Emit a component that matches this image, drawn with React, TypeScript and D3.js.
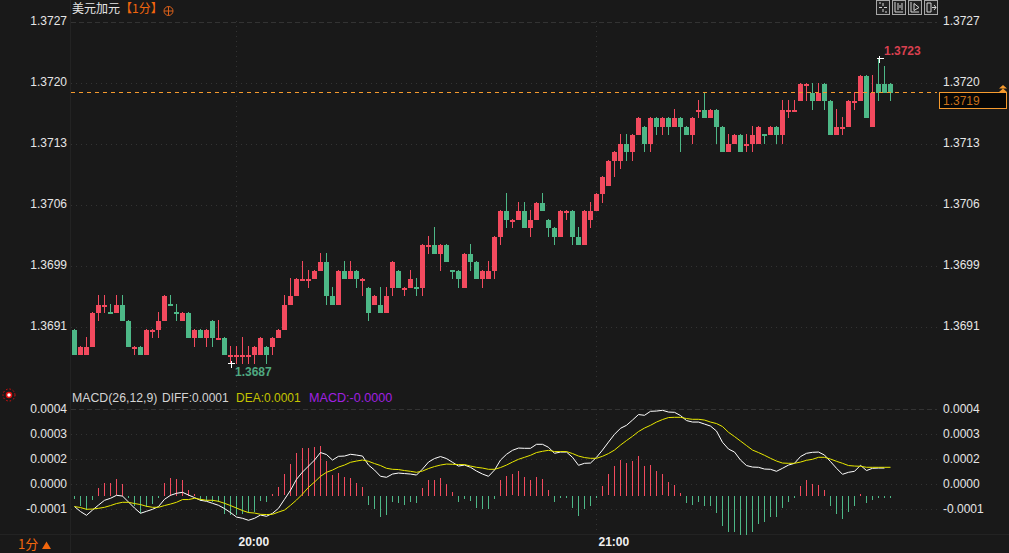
import React from 'react';
import * as d3 from 'd3';

// prices are stored in 0.0001 steps above 1.3600 (91 = 1.3691)
const opens = [
  91, 88, 88, 89, 93, 94, 93.1, 93, 94, 92,
  89, 89, 88, 91, 91, 92, 94.1, 93.1, 92, 93,
  90, 91, 90, 92, 90, 90, 88, 88, 88, 88,
  88, 88, 89, 89, 90, 91, 94, 95, 97, 97,
  97, 98, 99, 95, 94, 98, 97, 98, 97, 96,
  94, 94, 93, 96, 98, 96, 96, 96.1, 96, 101,
  101, 100, 101, 98.1, 98, 96, 100, 99, 97, 97,
  98, 102, 105, 104, 104, 105, 103, 104, 106, 104,
  103, 102, 105, 105, 102, 101, 104, 105, 107, 108,
  111, 111, 113, 112, 114, 115, 113, 116, 115, 116,
  115, 116, 115, 114, 117, 117, 116, 117, 115, 112,
  113, 114, 113, 113, 113, 114.1, 114, 115, 114, 117,
  117, 118, 120, 119, 118, 120, 118, 114, 115, 115,
  118, 118, 121, 115, 120, 120, 120,
];
const closes = [
  88, 89, 89, 93, 94, 94, 93, 94, 92, 89,
  89, 88, 91, 91, 92, 95, 94, 93, 93, 90,
  91, 90, 91, 90, 90, 88, 88, 88, 88, 88,
  89, 90, 88, 90, 91, 94, 95, 97, 97, 97,
  98, 99, 95, 94, 98, 97, 98, 97, 97, 93,
  95, 93, 95, 99, 96, 96, 97, 96, 101, 101,
  100, 101, 99, 98, 97, 100, 99, 97, 98, 98,
  102, 105, 104, 104, 105, 103, 104, 106, 105, 103,
  102, 105, 105, 102, 101, 105, 105, 107, 109, 111,
  112, 113, 112, 114, 116, 113, 116, 115, 116, 115,
  116, 115, 114, 116, 117, 116, 117, 115, 112, 113,
  114, 112, 113, 114, 115, 114, 115, 114, 117, 117,
  117, 120, 120, 118, 119, 118, 114, 115, 115, 118,
  118, 121, 116, 119, 119, 119, 119,
];
const highs = [
  91, 89, 90, 93, 95, 95, 94, 95, 95, 92,
  89, 89, 91, 91, 93, 95, 95, 94, 93, 93,
  91, 91, 91, 92, 92, 90, 89, 89, 90, 89,
  89, 90, 89, 90, 91, 95, 97, 97, 99, 98,
  98, 100, 100, 96, 98, 99, 99, 98, 97, 96,
  95, 96, 96, 99, 98, 96, 98, 97, 101, 102,
  103, 101, 101, 98, 98, 100, 101, 99, 98, 99,
  102, 105, 107, 104, 106, 106, 105, 106, 107, 104,
  103, 105, 105, 105, 103, 105, 106, 107, 109, 111,
  112, 114, 114, 114, 116, 115, 116, 116, 116, 116,
  117, 116, 115, 116, 118, 119, 117, 117, 115, 114,
  114, 114, 114, 115, 115, 114, 115, 115, 118, 118,
  118, 120, 120, 120, 120, 120, 118, 117, 116, 118,
  119, 121, 121, 121, 123, 122, 120,
];
const lows = [
  88, 88, 88, 89, 92, 93, 93, 93, 92, 89,
  88, 88, 88, 90, 90, 92, 94, 92, 92, 90,
  89, 90, 89, 89, 90, 88, 87, 87, 87, 87,
  87, 88, 87, 88, 90, 91, 94, 95, 97, 96,
  97, 98, 94, 94, 94, 97, 97, 96, 95, 92,
  94, 93, 93, 95, 96, 95, 96, 95, 95, 100,
  100, 98, 99, 97, 96, 96, 98, 97, 96, 97,
  97, 101, 103, 103, 104, 103, 102, 104, 105, 102,
  101, 102, 104, 101, 101, 101, 103, 105, 106, 108,
  109, 110, 111, 111, 114, 112, 112, 114, 114, 114,
  115, 112, 114, 113, 116, 116, 116, 113, 112, 112,
  113, 112, 112, 112, 113, 113, 114, 113, 113, 116,
  117, 118, 118, 117, 118, 117, 114, 114, 114, 115,
  117, 118, 116, 115, 118, 119, 118,
];

// MACD lines, read as grid steps above the 0.00004 tick (one step is 0.00011)
const diffLine = [
  -0.89, -1.09, -1.24, -1.03, -0.83, -0.64, -0.56, -0.44, -0.47, -0.71,
  -0.95, -1.16, -1.08, -1.0, -0.89, -0.6, -0.44, -0.36, -0.32, -0.43,
  -0.53, -0.64, -0.68, -0.76, -0.84, -0.97, -1.13, -1.31, -1.36, -1.44,
  -1.36, -1.23, -1.28, -1.16, -0.96, -0.6, -0.24, 0.2, 0.49, 0.73,
  0.97, 1.27, 1.19, 0.97, 1.12, 1.13, 1.2, 1.17, 1.13, 0.77,
  0.57, 0.32, 0.28, 0.41, 0.45, 0.43, 0.41, 0.37, 0.61, 0.89,
  1.03, 1.11, 1.03, 0.88, 0.73, 0.77, 0.68, 0.53, 0.41, 0.32,
  0.57, 0.97, 1.2, 1.36, 1.45, 1.44, 1.44, 1.6, 1.6, 1.48,
  1.24, 1.29, 1.29, 1.08, 0.76, 0.84, 0.85, 1.08, 1.37, 1.69,
  2.0, 2.24, 2.36, 2.57, 2.79, 2.76, 2.92, 2.93, 2.96, 2.89,
  2.88, 2.75, 2.55, 2.49, 2.49, 2.41, 2.33, 2.13, 1.68, 1.41,
  1.29, 0.97, 0.75, 0.69, 0.68, 0.61, 0.6, 0.52, 0.64, 0.77,
  0.84, 1.11, 1.24, 1.28, 1.29, 1.17, 0.91, 0.64, 0.4, 0.48,
  0.52, 0.76, 0.55, 0.64, 0.65, 0.65,
];
const deaLine = [
  -0.89, -0.93, -1.0, -0.99, -0.96, -0.92, -0.85, -0.77, -0.72, -0.72,
  -0.77, -0.81, -0.88, -0.92, -0.92, -0.85, -0.79, -0.72, -0.61, -0.61,
  -0.56, -0.6, -0.64, -0.64, -0.68, -0.76, -0.85, -0.95, -1.05, -1.13,
  -1.15, -1.2, -1.21, -1.2, -1.11, -1.03, -0.84, -0.63, -0.39, -0.12,
  0.09, 0.32, 0.48, 0.57, 0.69, 0.77, 0.88, 0.93, 0.97, 0.92,
  0.83, 0.75, 0.64, 0.6, 0.59, 0.55, 0.52, 0.48, 0.53, 0.63,
  0.71, 0.77, 0.81, 0.8, 0.79, 0.79, 0.73, 0.68, 0.65, 0.6,
  0.6, 0.67, 0.77, 0.89, 1.0, 1.08, 1.16, 1.27, 1.32, 1.36,
  1.31, 1.31, 1.31, 1.23, 1.13, 1.07, 1.04, 1.04, 1.12, 1.23,
  1.37, 1.57, 1.75, 1.92, 2.11, 2.25, 2.36, 2.49, 2.59, 2.67,
  2.68, 2.68, 2.63, 2.6, 2.6, 2.57, 2.49, 2.43, 2.31, 2.08,
  1.91, 1.73, 1.55, 1.37, 1.27, 1.16, 1.04, 0.93, 0.85, 0.84,
  0.84, 0.89, 0.96, 1.0, 1.08, 1.08, 1.01, 0.92, 0.84, 0.75,
  0.73, 0.72, 0.68, 0.68, 0.68, 0.68, 0.68,
];
// histogram has its own scale in the source chart, so these are relative heights
const macdBars = [
  -3, -10, -14, -4, 7.5, 13, 13, 16, 11.5, -2,
  -10, -17, -11, -8, -2, 13, 17.5, 16.5, 15.5, 5.5,
  1.5, -5, -5, -6.5, -6.5, -18, -18.5, -18.5, -18, -17,
  -16, -5, -5.5, 1.5, 8.5, 21.5, 32, 43, 48, 48,
  49, 50, 35, 21, 23, 19, 17.5, 13, 8.5, -8.5,
  -12.5, -21, -19, -6.5, -7.5, -8.5, -5.5, -7.5, 7.5, 15.5,
  15.5, 17.5, 11.5, 3.5, -5.5, -2.5, -4.5, -11.5, -13.5, -13.5,
  -2.5, 15.5, 19.5, 21.5, 24.5, 18.5, 15.5, 18.5, 16.5, 5.5,
  -5.5, -2, -2, -11.5, -20, -13.5, -9.5, -1.5, 9.5, 21.5,
  29.5, 35.5, 32.5, 34.5, 39.5, 29.5, 30.5, 24.5, 21.5, 13.5,
  10.5, 2.5, -7.5, -8.5, -6.5, -9.5, -9.5, -16.5, -30.5, -35.5,
  -35.5, -38.5, -38.5, -35.5, -27.5, -25.5, -20.5, -20.5, -11.5, -5.5,
  -1.5, 9.5, 15.5, 11.5, 10.5, 5.5, -10.5, -17.5, -22.5, -15.5,
  -10.5, 1.5, -7.5, -3.5, -1.5, -1.5, -1.5,
];

const priceTicks = [1.37274, 1.37202, 1.3713, 1.37058, 1.36986, 1.36914];
const macdTicks = [0.000372, 0.000262, 0.000152, 0.000042, -0.000068];
const timeTicks = [
  { index: 27, label: '20:00' },
  { index: 87, label: '21:00' },
];

const lastPrice = 119;
const highMark = { index: 134, value: 123, label: '1.3723' };
const lowMark = { index: 26, value: 87, label: '1.3687' };

const RED = '#f24a5e';
const GREEN = '#4db887';
const GRID = '#333333';
const ORANGE = '#f59a2e';
const LABEL = '#e6e6e6';
const FONT = '"Liberation Sans", Arial, sans-serif';
const CJK = '"Noto Sans CJK SC", "Liberation Sans", sans-serif';

const left = 71;
const right = 937;

const x = d3.scaleLinear().domain([0, 136]).range([74.5, 890.5]);
const yPrice = d3.scaleLinear().domain([87, 123]).range([363.8, 58.9]);
const yPriceTick = (p: number) => yPrice((p - 1.36) * 10000);
const yMacd = d3.scaleLinear().domain([0.000372, -0.000068]).range([409.3, 509.3]);
const stepToValue = (s: number) => 0.000042 + s * 0.00011;
const yBars = d3.scaleLinear().domain([0, 50]).range([495.5, 445.5]);

const macdPath = d3.line<number>().x((_, i) => x(i)).y(d => yMacd(stepToValue(d)));

const IconBox: React.FC<{ bx: number; d: string }> = ({ bx, d }) => (
  <g transform={`translate(${bx},0)`}>
    <rect x={0.5} y={0.5} width={13} height={14} fill="#222" stroke="#a8a8a8" />
    <path d={d} fill="none" stroke="#d4d4d4" strokeWidth={1} />
  </g>
);

const App: React.FC = () => {
  return (
    <svg
      width={1009}
      height={553}
      style={{ position: 'absolute', left: 0, top: 0, display: 'block', background: '#191919' }}
      fontFamily={FONT}
    >
      <line x1={70.5} x2={70.5} y1={0} y2={553} stroke="#232323" />
      <line x1={0} x2={1009} y1={534.5} y2={534.5} stroke="#232323" />

      {priceTicks.map((p, i) => (
        <line
          key={p}
          x1={left}
          x2={right}
          y1={Math.round(yPriceTick(p)) + 0.5}
          y2={Math.round(yPriceTick(p)) + 0.5}
          stroke={GRID}
          strokeDasharray={i === 0 ? '5 3' : '1 4'}
        />
      ))}
      {macdTicks.map((t, i) => (
        <line
          key={t}
          x1={left}
          x2={right}
          y1={Math.round(yMacd(t)) + 0.5}
          y2={Math.round(yMacd(t)) + 0.5}
          stroke={GRID}
          strokeDasharray={i === 0 ? '5 3' : '1 4'}
        />
      ))}
      {timeTicks.map(t => (
        <g key={t.label} stroke={GRID} strokeDasharray="1 4">
          <line x1={x(t.index)} x2={x(t.index)} y1={21} y2={388} />
          <line x1={x(t.index)} x2={x(t.index)} y1={409} y2={534} />
        </g>
      ))}

      {/* candles */}
      {opens.map((o, i) => {
        const c = closes[i];
        const color = c >= o ? RED : GREEN;
        const top = Math.round(yPrice(Math.max(o, c)));
        const bottom = Math.round(yPrice(Math.min(o, c)));
        return (
          <g key={i} fill={color} shapeRendering="crispEdges">
            <rect
              x={Math.floor(x(i))}
              y={Math.round(yPrice(highs[i])) - 1}
              width={1}
              height={Math.round(yPrice(lows[i])) - Math.round(yPrice(highs[i])) + 1}
            />
            <rect x={Math.floor(x(i)) - 2} y={top} width={5} height={Math.max(bottom - top, 2)} />
          </g>
        );
      })}

      <line
        x1={left}
        x2={right}
        y1={Math.round(yPrice(lastPrice)) - 0.5}
        y2={Math.round(yPrice(lastPrice)) - 0.5}
        stroke={ORANGE}
        strokeDasharray="4 4"
      />

      {/* high / low markers */}
      <g stroke="#ffffff" shapeRendering="crispEdges">
        <path d={`M${x(highMark.index) - 2} ${yPrice(highMark.value)}h7M${x(highMark.index) + 1} ${yPrice(highMark.value) - 3}v7`} />
        <path d={`M${x(lowMark.index) - 3} ${yPrice(lowMark.value)}h7M${x(lowMark.index) + 1} ${yPrice(lowMark.value) - 3}v7`} />
      </g>
      <text x={884} y={55} fontSize={12} fontWeight={700} fill="#d8404f">{highMark.label}</text>
      <text x={235} y={376} fontSize={12} fontWeight={700} fill="#4fa880">{lowMark.label}</text>

      {/* header */}
      <text x={72} y={13} fontSize={12} fontFamily={CJK} fill={LABEL}>美元加元</text>
      <text x={120} y={13} fontSize={12} fontFamily={CJK} fill="#f2660d">【1分】</text>
      <g stroke="#d9601a" fill="none">
        <circle cx={168.5} cy={11} r={4.5} />
        <path d="M164 11h9M168.5 6.5v9" />
      </g>
      <IconBox bx={876} d="M3 7.5h3M8 7.5h3M7 3v3M7 9v3M3 3h2M9 12h2" />
      <IconBox bx={892} d="M3 2v10h8M6 3v7M8 5v3M10 3v7" />
      <IconBox bx={908} d="M3 2v10h8M6 3.5l5 4-5 3z" />
      <IconBox bx={924} d="M3 3h4v9h-4zM8 7.5h4M10 5l2 2.5-2 2.5" />

      {/* axis labels */}
      {priceTicks.map(p => (
        <g key={p} fontSize={12} fill={LABEL}>
          <text x={67} y={yPriceTick(p) + 3.5} textAnchor="end">{p.toFixed(4)}</text>
          <text x={943} y={yPriceTick(p) + 3.5}>{p.toFixed(4)}</text>
        </g>
      ))}
      {macdTicks.map(t => (
        <g key={t} fontSize={12} fill={LABEL}>
          <text x={67} y={yMacd(t) + 3.5} textAnchor="end">{t.toFixed(4)}</text>
          <text x={943} y={yMacd(t) + 3.5}>{t.toFixed(4)}</text>
        </g>
      ))}

      {/* last price box */}
      <path d="M999 92l4-3.5 4 3.5zM999 88.5l4-3.5 4 3.5z" fill={ORANGE} />
      <rect x={939.5} y={92.5} width={67} height={16} fill="#060606" stroke={ORANGE} />
      <text x={943} y={105} fontSize={12} fill="#c8701a">{(1.36 + lastPrice / 10000).toFixed(4)}</text>

      {/* MACD legend */}
      <g transform="translate(9,395)">
        <circle r={2.5} fill="#ffffff" stroke="#e01010" strokeWidth={1.5} />
        <circle r={6} fill="none" stroke="#e01010" strokeDasharray="1.5 2" />
      </g>
      <text x={72} y={402} fontSize={12.3} fill="#d4d4d4">MACD(26,12,9)</text>
      <text x={162} y={402} fontSize={12} fill="#d4d4d4">DIFF:0.0001</text>
      <text x={236} y={402} fontSize={12} fill="#c4c400">DEA:0.0001</text>
      <text x={309} y={402} fontSize={12.6} fill="#a020e0">MACD:-0.0000</text>

      {/* MACD histogram */}
      {macdBars.map((v, i) => (
        <rect
          key={i}
          x={Math.floor(x(i))}
          y={Math.round(Math.min(yBars(v), yBars(0)))}
          width={1}
          height={Math.round(Math.abs(yBars(v) - yBars(0)))}
          fill={v >= 0 ? RED : GREEN}
          shapeRendering="crispEdges"
        />
      ))}
      <path d={macdPath(diffLine) ?? ''} fill="none" stroke="#ffffff" strokeWidth={1} />
      <path d={macdPath(deaLine) ?? ''} fill="none" stroke="#e8e800" strokeWidth={1} />

      {/* time axis */}
      {timeTicks.map(t => (
        <text key={t.label} x={x(t.index) + 2} y={546} fontSize={12} fontWeight={700} fill="#f0f0f0">
          {t.label}
        </text>
      ))}
      <text x={18} y={549} fontSize={13} fontFamily={CJK} fill="#f2660d">1分</text>
      <path d="M42 549l4.5-7.5 4.5 7.5z" fill="#f2660d" />
    </svg>
  );
};

export default App;
